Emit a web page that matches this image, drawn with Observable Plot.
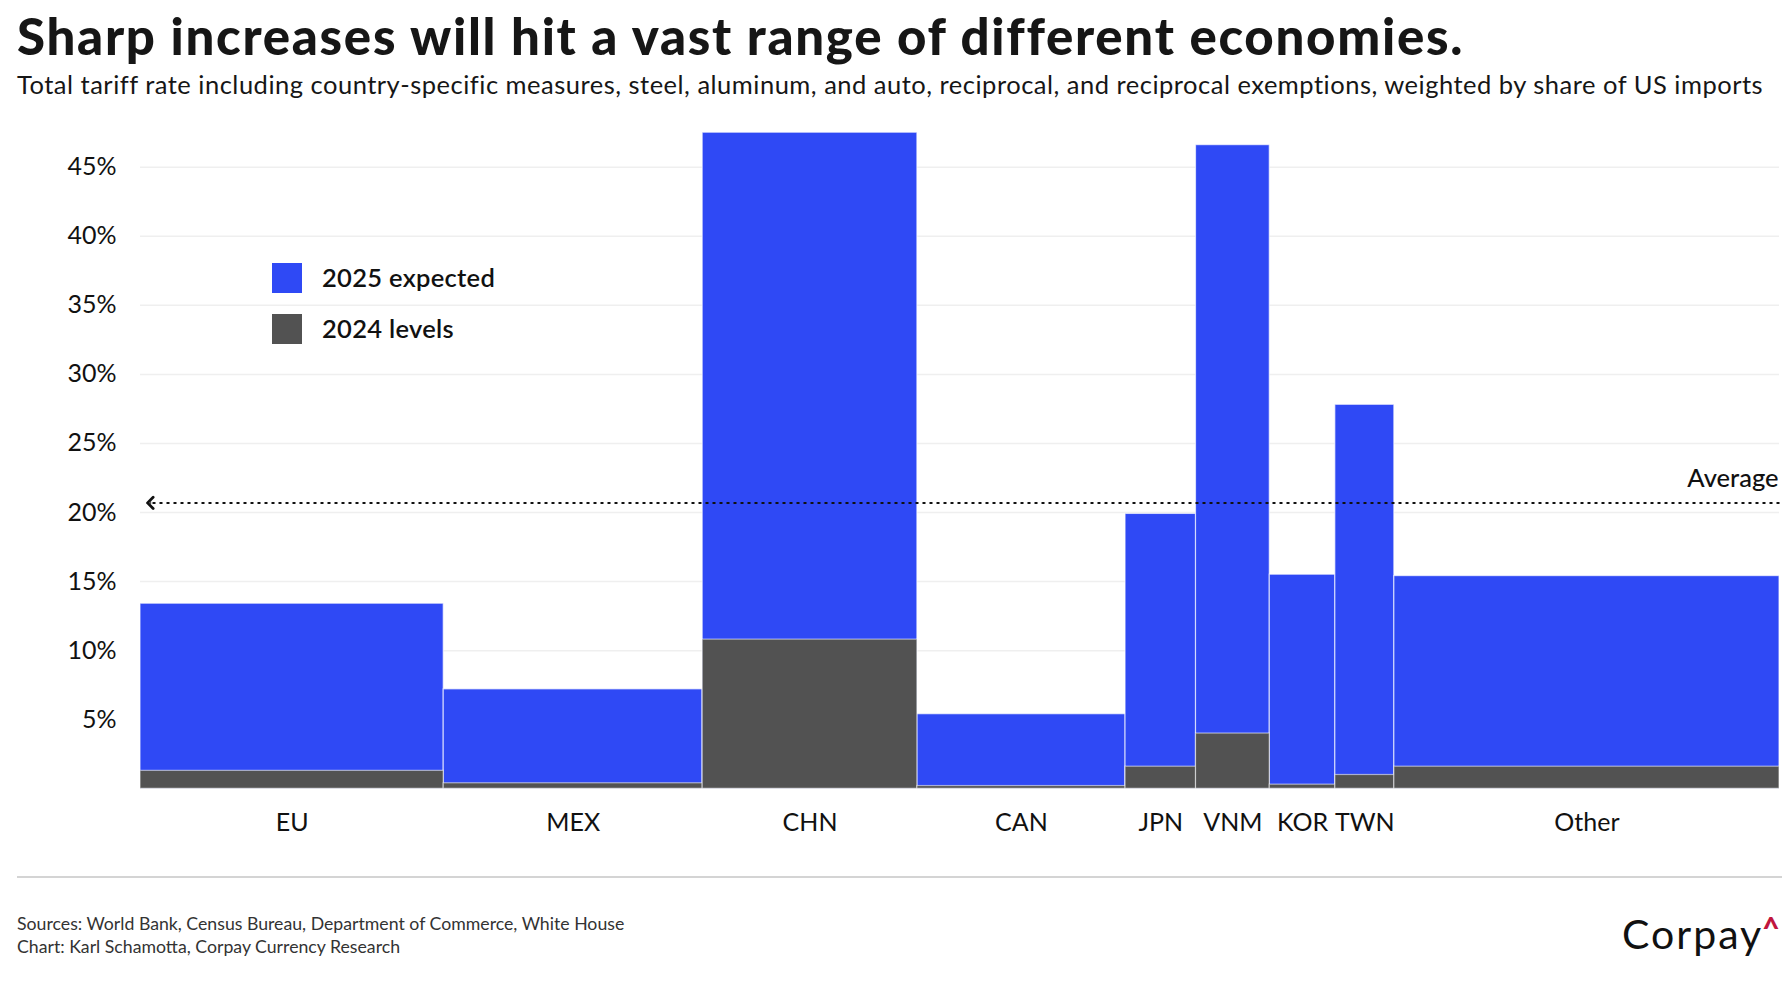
<!DOCTYPE html>
<html><head><meta charset="utf-8">
<script src="https://cdn.jsdelivr.net/npm/d3@7"></script>
<script src="https://cdn.jsdelivr.net/npm/@observablehq/plot@0.6"></script>
<style>
body{margin:0;background:#fff;font-family:Lato, "Noto Sans", sans-serif;color:#111;}
#wrap{position:relative;width:1791px;height:1000px;overflow:hidden;background:#fff;}
.abs{position:absolute;white-space:nowrap;line-height:1;}
#chart{position:absolute;left:0;top:110px;}
.sw{position:absolute;width:30px;height:30px;}
</style></head><body>
<div id="wrap">
  <div class="abs" id="title" style="left:17px;top:10px;font-size:51px;font-weight:900;letter-spacing:1.7px;color:#161616;">Sharp increases will hit a vast range of different economies.</div>
  <div class="abs" id="subtitle" style="left:17px;top:72px;font-size:25.5px;font-weight:400;letter-spacing:0.5px;color:#161616;">Total tariff rate including country-specific measures, steel, aluminum, and auto, reciprocal, and reciprocal exemptions, weighted by share of US imports</div>
  <div id="chart"></div>
  <div id="legend"></div>
  <div class="abs" style="left:17px;top:876px;width:1765px;height:1.5px;background:#d4d4d4;"></div>
  <div class="abs" id="src1" style="left:17px;top:915px;font-size:17.7px;color:#333;">Sources: World Bank, Census Bureau, Department of Commerce, White House</div>
  <div class="abs" id="src2" style="left:17px;top:938px;font-size:17.7px;color:#333;">Chart: Karl Schamotta, Corpay Currency Research</div>
  <div class="abs" id="logo" style="left:1622px;top:913px;font-size:41px;font-weight:400;color:#111;letter-spacing:2px;">Corpay<span style="color:#c0163e;font-weight:900;font-size:30px;position:relative;top:-10px;margin-left:-1px;">^</span></div>
</div>
<script>
// Data
const countries = ["EU","MEX","CHN","CAN","JPN","VNM","KOR","TWN","Other"];
const importShare = [18.5,15.8,13.1,12.7,4.3,4.5,4.0,3.6,23.5]; // share of US imports (bar widths)
const rate2025 = [13.4,7.2,47.5,5.4,19.9,46.6,15.5,27.8,15.4];
const rate2024 = [1.3,0.4,10.8,0.2,1.6,4.0,0.3,1.0,1.6];
const averageRate = 20.7;
const yTicks = [5,10,15,20,25,30,35,40,45];
const seriesNames = ["2025 expected","2024 levels"];
const seriesColors = ["#2f49f5","#525252"];

let acc = 0;
const rows = countries.map((name,i)=>{
  const r = {name, x0:acc, x1:acc+importShare[i], r2025:rate2025[i], r2024:rate2024[i]};
  acc += importShare[i];
  return r;
});
const total = acc;
const arrowTip = total*0.006;

const chart = Plot.plot({
  width:1791, height:760,
  marginLeft:140, marginRight:12, marginTop:15.3, marginBottom:81.7,
  x:{domain:[0,total], axis:null},
  y:{domain:[0,48], axis:null},
  style:{fontFamily:"Lato, 'Noto Sans', sans-serif", fontSize:"25px", color:"#111", background:"white", overflow:"visible"},
  marks:[
    Plot.ruleY(yTicks,{stroke:"#efefef", strokeWidth:1.5}),
    Plot.axisY(yTicks,{tickSize:0, tickPadding:24, tickFormat:d=>d+"%", fontSize:25, fill:"#111", label:null}),
    Plot.rect(rows,{x1:"x0",x2:"x1",y1:0,y2:"r2025", fill:seriesColors[0], stroke:"#ffffff", strokeOpacity:0.65, strokeWidth:1.2}),
    Plot.rect(rows,{x1:"x0",x2:"x1",y1:0,y2:"r2024", fill:seriesColors[1], stroke:"#ffffff", strokeOpacity:0.55, strokeWidth:1.2}),
    Plot.link([averageRate],{x1:total, x2:arrowTip, y1:d=>d, y2:d=>d, stroke:"#111", strokeWidth:2, strokeDasharray:"3,4"}),
    Plot.link([averageRate],{x1:arrowTip+0.05, x2:arrowTip, y1:d=>d, y2:d=>d, stroke:"#111", strokeWidth:2.8, markerEnd:"arrow"}),
    Plot.text(["Average"],{x:total, y:averageRate, text:d=>d, textAnchor:"end", lineAnchor:"bottom", dy:-16, dx:-1, fontSize:25.5, fontWeight:500, fill:"#111"}),
    Plot.text(rows,{x:d=>(d.x0+d.x1)/2, y:0, text:"name", lineAnchor:"middle", dy:34, fontSize:25, fill:"#111"})
  ]
});
document.getElementById("chart").appendChild(chart);

// Legend (HTML overlay)
const leg = document.getElementById("legend");
seriesNames.forEach((n,i)=>{
  const top = 263 + i*51;
  const s = document.createElement("div");
  s.className = "sw";
  s.style.left = "272px"; s.style.top = top+"px"; s.style.background = seriesColors[i];
  leg.appendChild(s);
  const t = document.createElement("div");
  t.className = "abs";
  t.style.left = "322px"; t.style.top = (top+2)+"px"; t.style.fontSize = "25.5px"; t.style.fontWeight = "600"; t.style.letterSpacing = "0.3px";
  t.textContent = n;
  leg.appendChild(t);
});
</script>
</body></html>
